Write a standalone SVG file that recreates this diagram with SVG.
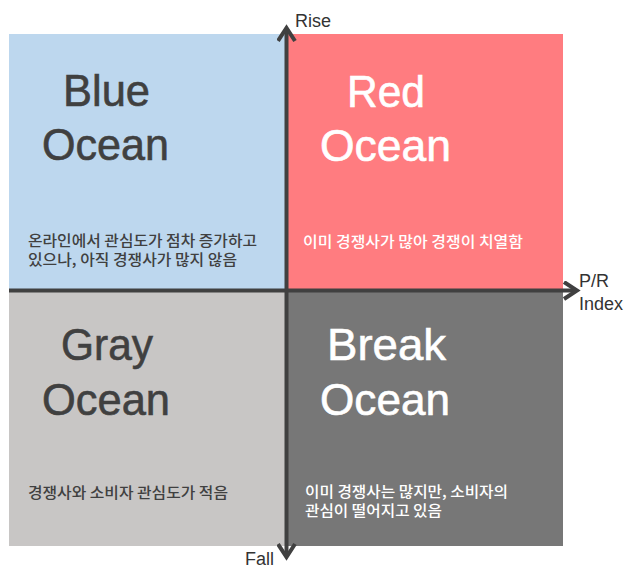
<svg xmlns="http://www.w3.org/2000/svg" width="636" height="575" viewBox="0 0 636 575">
<style>
.big{font-family:"Liberation Sans",Arial,sans-serif;font-size:45px;stroke-width:0.6px;}
.kr{font-family:"Noto Sans CJK KR","Noto Sans",sans-serif;font-size:15px;font-weight:500;}
.ax{font-family:"Liberation Sans",Arial,sans-serif;font-size:18px;fill:#333333;}
.dk{fill:#404040;}
.big.dk{stroke:#404040;}
.wt{fill:#ffffff;}
.big.wt{stroke:#ffffff;}
</style>
<defs>
<marker id="arr" viewBox="0 0 24 20" refX="18" refY="10" markerWidth="24" markerHeight="20" markerUnits="userSpaceOnUse" orient="auto-start-reverse">
<path d="M5,1.5 L18,10 L5,18.5" fill="none" stroke="#404040" stroke-width="4" stroke-linejoin="miter"/>
</marker>
</defs>
<rect width="636" height="575" fill="#ffffff"/>
<g id="blue-ocean">
<rect x="9" y="34" width="278" height="257" fill="#BDD7EE"/>
<text class="big dk" x="63" y="106" textLength="87" lengthAdjust="spacingAndGlyphs">Blue</text>
<text class="big dk" x="42" y="160" textLength="127" lengthAdjust="spacingAndGlyphs">Ocean</text>
<text class="kr dk" x="28" y="246" textLength="229" lengthAdjust="spacingAndGlyphs">온라인에서 관심도가 점차 증가하고</text>
<text class="kr dk" x="28" y="265" textLength="209" lengthAdjust="spacingAndGlyphs">있으나, 아직 경쟁사가 많지 않음</text>
</g>
<g id="red-ocean">
<rect x="287" y="34" width="276" height="257" fill="#FF7C80"/>
<text class="big wt" x="347" y="107" textLength="78" lengthAdjust="spacingAndGlyphs">Red</text>
<text class="big wt" x="320" y="161" textLength="131" lengthAdjust="spacingAndGlyphs">Ocean</text>
<text class="kr wt" x="303" y="247" textLength="220" lengthAdjust="spacingAndGlyphs">이미 경쟁사가 많아 경쟁이 치열함</text>
</g>
<g id="gray-ocean">
<rect x="9" y="291" width="278" height="255" fill="#C8C6C5"/>
<text class="big dk" x="61" y="360" textLength="92" lengthAdjust="spacingAndGlyphs">Gray</text>
<text class="big dk" x="42" y="415" textLength="128" lengthAdjust="spacingAndGlyphs">Ocean</text>
<text class="kr dk" x="28" y="498" textLength="200" lengthAdjust="spacingAndGlyphs">경쟁사와 소비자 관심도가 적음</text>
</g>
<g id="break-ocean">
<rect x="287" y="291" width="276" height="255" fill="#777777"/>
<text class="big wt" x="327" y="360" textLength="119" lengthAdjust="spacingAndGlyphs">Break</text>
<text class="big wt" x="320" y="415" textLength="130" lengthAdjust="spacingAndGlyphs">Ocean</text>
<text class="kr wt" x="305" y="497" textLength="203" lengthAdjust="spacingAndGlyphs">이미 경쟁사는 많지만, 소비자의</text>
<text class="kr wt" x="305" y="516" textLength="137" lengthAdjust="spacingAndGlyphs">관심이 떨어지고 있음</text>
</g>
<g id="connectors">
<line x1="286.5" y1="557" x2="286.5" y2="28" stroke="#404040" stroke-width="4" marker-start="url(#arr)" marker-end="url(#arr)"/>
<line x1="9" y1="290.5" x2="577" y2="290.5" stroke="#404040" stroke-width="4" marker-end="url(#arr)"/>
</g>
<g id="axis-labels">
<text class="ax" x="295" y="27">Rise</text>
<text class="ax" x="579" y="287">P/R</text>
<text class="ax" x="579" y="310">Index</text>
<text class="ax" x="245" y="565">Fall</text>
</g>
</svg>
